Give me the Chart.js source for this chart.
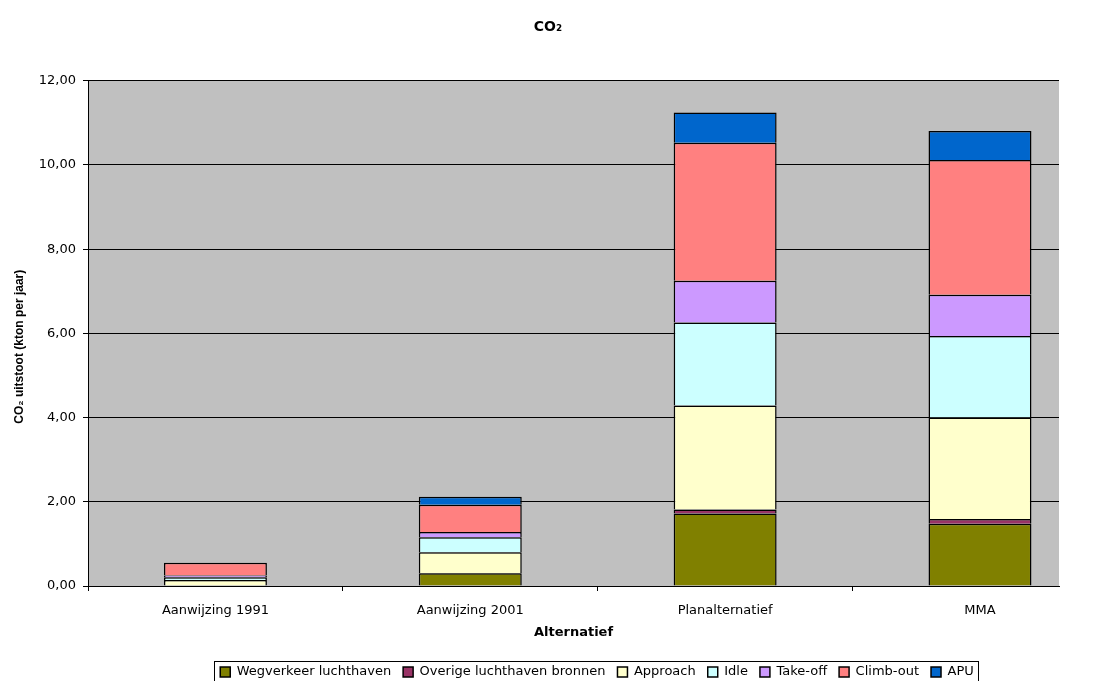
<!DOCTYPE html>
<html>
<head>
<meta charset="utf-8">
<script src="https://cdn.jsdelivr.net/npm/chart.js@4"></script>
<style>
  body { margin: 0; background: #fff; }
  #wrap { width: 1096px; height: 681px; }
</style>
</head>
<body>
<div id="wrap"><canvas id="myChart" width="1096" height="681"></canvas></div>
<script>
var categories = ['Aanwijzing 1991', 'Aanwijzing 2001', 'Planalternatief', 'MMA'];
var wegverkeer = [0.00, 0.30, 1.72, 1.48];
var overige    = [0.00, 0.01, 0.10, 0.11];
var approach   = [0.14, 0.49, 2.47, 2.41];
var idle       = [0.07, 0.36, 1.97, 1.94];
var takeoff    = [0.04, 0.12, 0.99, 0.98];
var climbout   = [0.30, 0.65, 3.28, 3.20];
var apu        = [0.00, 0.19, 0.72, 0.69];

Chart.defaults.font.family = '"DejaVu Sans", sans-serif';
Chart.defaults.color = '#000';

var plotBg = {
    id: 'plotBg',
    afterLayout: function (chart) {
        // title centred on the whole canvas, legend a bit to the right, like the original
        chart.titleBlock.left = 0;
        chart.titleBlock.right = chart.width;
        chart.titleBlock.width = chart.width;
        chart.legend.left = 98;
        chart.legend.right = chart.width;
        chart.legend.width = chart.width - 98;
    },
    beforeDraw: function (chart) {
        var a = chart.chartArea, c = chart.ctx;
        c.save();
        c.fillStyle = '#fff';
        c.fillRect(0, 0, chart.width, chart.height);
        c.fillStyle = '#C0C0C0';
        c.fillRect(a.left, a.top, a.right - a.left, a.bottom - a.top);
        c.restore();
    },
    afterDraw: function (chart) {
        var lg = chart.legend, c = chart.ctx;
        if (!lg || !lg.legendHitBoxes.length) return;
        var l = Infinity, r = -Infinity, t = Infinity;
        lg.legendHitBoxes.forEach(function (h) {
            l = Math.min(l, h.left); r = Math.max(r, h.left + h.width);
            t = Math.min(t, h.top);
        });
        c.save();
        c.strokeStyle = '#000';
        c.lineWidth = 1;
        c.strokeRect(Math.round(l - 6) + 0.5, Math.round(t - 5) + 0.5, Math.round(r - l + 10), 20);
        c.restore();
    }
};

function ds(label, vals, color) {
    return {
        label: label,
        data: vals.map(function (v, i) { return { x: i, y: v }; }),
        backgroundColor: color,
        borderColor: '#000',
        borderWidth: 1.5
    };
}

var ctx = document.getElementById('myChart').getContext('2d');
var myChart = new Chart(ctx, {
    type: 'bar',
    data: {
        datasets: [
            ds('Wegverkeer luchthaven', wegverkeer, '#808000'),
            ds('Overige luchthaven bronnen', overige, '#993366'),
            ds('Approach', approach, '#FFFFCC'),
            ds('Idle', idle, '#CCFFFF'),
            ds('Take-off', takeoff, '#CC99FF'),
            ds('Climb-out', climbout, '#FF8080'),
            ds('APU', apu, '#0066CC')
        ]
    },
    options: {
        responsive: false,
        animation: false,
        layout: { padding: { left: 8, right: 37, top: 0, bottom: -7.5 } },
        datasets: { bar: { barPercentage: 0.404, categoryPercentage: 1.0 } },
        plugins: {
            title: {
                display: true,
                text: 'CO₂',
                font: { size: 14, weight: 'bold' },
                padding: { top: 19, bottom: 45 }
            },
            legend: {
                position: 'bottom',
                labels: {
                    boxWidth: 10,
                    boxHeight: 10,
                    padding: 12,
                    font: { size: 13 }
                }
            },
            tooltip: { enabled: false }
        },
        scales: {
            x: {
                type: 'linear',
                stacked: true,
                offset: false,
                min: -0.5,
                max: 3.31,
                afterBuildTicks: function (s) {
                    s.ticks = categories.map(function (c, i) { return { value: i }; });
                },
                grid: { drawOnChartArea: false, color: '#000', tickLength: 5, offset: true },
                border: { color: '#000' },
                ticks: {
                    padding: 12,
                    font: { size: 13 },
                    color: '#000',
                    maxRotation: 0,
                    callback: function (v) { return categories[v] || ''; }
                },
                title: { display: true, text: 'Alternatief', font: { size: 13, weight: 'bold' }, padding: { top: 4, bottom: 13 } },
                afterFit: function (s) { s.height = 67.5; }
            },
            y: {
                stacked: true,
                min: 0,
                max: 12,
                grid: { color: '#000', tickLength: 5 },
                border: { color: '#000' },
                ticks: {
                    stepSize: 2,
                    padding: 7,
                    font: { size: 13 },
                    color: '#000',
                    callback: function (v) { return v.toFixed(2).replace('.', ','); }
                },
                title: {
                    display: true,
                    text: 'CO₂ uitstoot (kton per jaar)        ',
                    font: { family: '"Liberation Sans", Arial, sans-serif', size: 12, weight: 'bold' },
                    padding: 4
                },
                afterFit: function (s) { s.width = 80; }
            }
        }
    },
    plugins: [plotBg]
});
</script>
</body>
</html>
